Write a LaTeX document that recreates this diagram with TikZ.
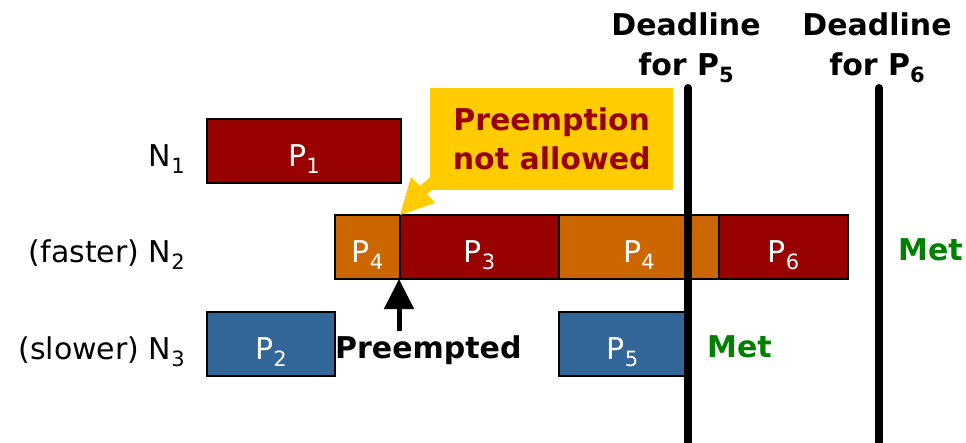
\documentclass[tikz,border=0pt]{standalone}
\usepackage{fontspec}
\setmainfont{DejaVu Sans}
\usetikzlibrary{arrows.meta}

\definecolor{taskred}{HTML}{990000}
\definecolor{taskorange}{HTML}{CC6600}
\definecolor{taskblue}{HTML}{336699}
\definecolor{noteyellow}{HTML}{FFCC00}
\definecolor{metgreen}{HTML}{008000}

% lowered, smaller index (P_1, N_2, ...)
\newcommand\idx[1]{\raisebox{-7pt}{\fontsize{21}{21}\selectfont #1}}

\tikzset{
  task/.style={draw=black, line width=2pt, text=white, minimum height=64pt,
    inner sep=0pt, outer sep=0pt, anchor=north west,
    text height=33pt, text depth=3pt},
  redtask/.style={task, fill=taskred},
  orangetask/.style={task, fill=taskorange},
  bluetask/.style={task, fill=taskblue},
  rowlabel/.style={anchor=east, inner sep=0pt, text height=33pt, text depth=3pt},
  note/.style={fill=noteyellow, text=taskred, align=center, inner sep=0pt,
    anchor=north west, font=\bfseries\fontsize{30}{39}\selectfont},
  deadlabel/.style={align=center, inner sep=0pt,
    font=\bfseries\fontsize{30}{40}\selectfont},
  deadline/.style={line width=8pt, line cap=round, black},
  boldlabel/.style={font=\bfseries\fontsize{30}{36}\selectfont, inner sep=0pt,
    anchor=base west},
  met/.style={boldlabel, text=metgreen},
  uparrow/.style={line width=5pt, black, -{Triangle[length=30pt,width=29pt]}},
}

\begin{document}
\begin{tikzpicture}[x=1pt, y=-1pt, font=\fontsize{30}{36}\selectfont]
  \useasboundingbox (0,0) rectangle (966,442);

  % processor rows
  \node[rowlabel] (n1) at (185,151) {N\idx{1}};
  \node[rowlabel] (n2) at (185,247) {(faster) N\idx{2}};
  \node[rowlabel] (n3) at (185,344) {(slower) N\idx{3}};

  % N1 schedule
  \node[redtask, minimum width=194pt] (p1) at (207,119) {P\idx{1}};

  % N2 schedule
  \node[orangetask, minimum width=65pt]  (p4a) at (335,215) {P\idx{4}};
  \node[redtask,    minimum width=159pt] (p3)  at (400,215) {P\idx{3}};
  \node[orangetask, minimum width=160pt] (p4b) at (559,215) {P\idx{4}};
  \node[redtask,    minimum width=129pt] (p6)  at (719,215) {P\idx{6}};

  % N3 schedule
  \node[bluetask, minimum width=128pt] (p2) at (207,312) {P\idx{2}};
  \node[bluetask, minimum width=127pt] (p5) at (559,312) {P\idx{5}};

  % callout pointing at the P4/P3 switch
  \fill[noteyellow] (p4a.north east) -- (411,177) -- (420,186) -- (443,166)
    -- (450,174) -- (427,194) -- (435,203) -- cycle;
  \node[note, minimum width=243pt, minimum height=102pt] (noallow) at (430,88)
    {Preemption\\not allowed};

  % preemption marker
  \node[boldlabel] (preempted) at (335,358) {Preempted};
  \coordinate (ptail) at (399,331);
  \draw[uparrow] (ptail) -- (ptail |- p4a.south east);

  % deadlines
  \node[deadlabel] (dl5) at (686,48) {Deadline\\for P\idx{5}};
  \node[deadlabel] (dl6) at (877,48) {Deadline\\for P\idx{6}};
  \coordinate (d5top) at (688,88);
  \coordinate (d5bot) at (688,446);
  \coordinate (d6top) at (879,88);
  \coordinate (d6bot) at (879,446);
  \draw[deadline] (d5top) -- (d5bot);
  \draw[deadline] (d6top) -- (d6bot);

  % outcomes
  \node[met] (met6) at (898,260) {Met};
  \node[met] (met5) at (707,357) {Met};
\end{tikzpicture}
\end{document}
